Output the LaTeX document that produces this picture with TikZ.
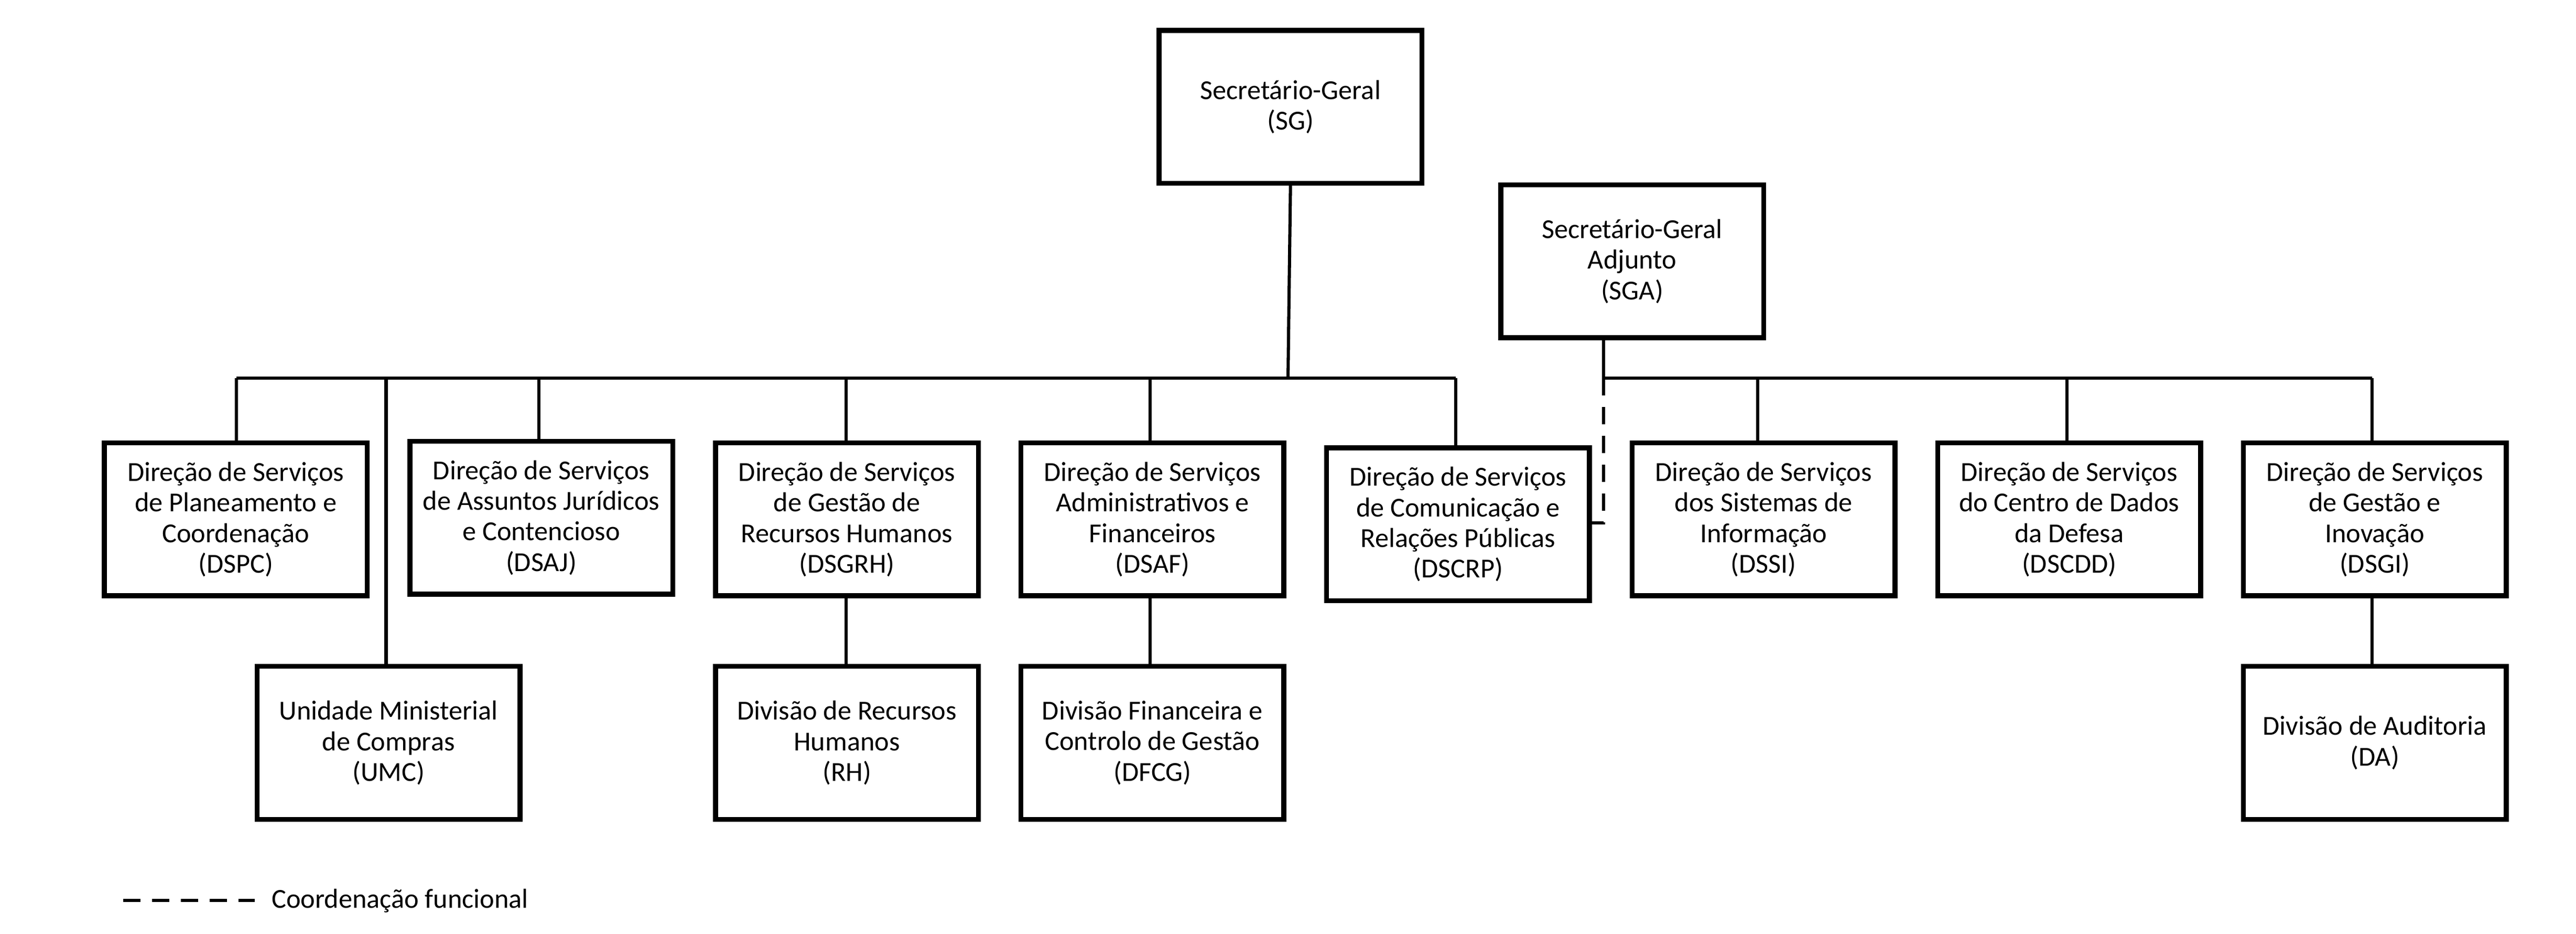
\documentclass[tikz,border=0pt]{standalone}
\usepackage{fontspec}
\setmainfont{Carlito}
\begin{document}
\begin{tikzpicture}[x=0.02cm,y=-0.02cm,
 box/.style={draw,line width=1.7pt,minimum width=160*0.02cm,minimum height=93*0.02cm,align=center,font=\fontsize{9.5}{10.6}\selectfont,inner sep=2pt,anchor=north west},
 ln/.style={line width=1.1pt},
 every node/.style={}]
\useasboundingbox (0,0) rectangle (1568,568);
\node[box] (sg) at (704,17) {Secretário-Geral\\(SG)};
\node[box] (sga) at (912,111) {Secretário-Geral\\Adjunto\\(SGA)};
\node[box] (dspc) at (62,268) {Direção de Serviços\\de Planeamento e\\Coordenação\\(DSPC)};
\node[box] (dsaj) at (248,267) {Direção de Serviços\\de Assuntos Jurídicos\\e Contencioso\\(DSAJ)};
\node[box] (dsgrh) at (434,268) {Direção de Serviços\\de Gestão de\\Recursos Humanos\\(DSGRH)};
\node[box] (dsaf) at (620,268) {Direção de Serviços\\Administrativos e\\Financeiros\\(DSAF)};
\node[box] (dscrp) at (806,271) {Direção de Serviços\\de Comunicação e\\Relações Públicas\\(DSCRP)};
\node[box] (dssi) at (992,268) {Direção de Serviços\\dos Sistemas de\\Informação\\(DSSI)};
\node[box] (dscdd) at (1178,268) {Direção de Serviços\\do Centro de Dados\\da Defesa\\(DSCDD)};
\node[box] (dsgi) at (1364,268) {Direção de Serviços\\de Gestão e\\Inovação\\(DSGI)};
\node[box] (umc) at (155,404) {Unidade Ministerial\\de Compras\\(UMC)};
\node[box] (rh) at (434,404) {Divisão de Recursos\\Humanos\\(RH)};
\node[box] (dfcg) at (620,404) {Divisão Financeira e\\Controlo de Gestão\\(DFCG)};
\node[box] (da) at (1364,404) {Divisão de Auditoria\\(DA)};
\coordinate (b1) at (784,230);
\coordinate (b2) at (976,230);
\coordinate (dc) at (976,318);
\draw[ln] (sg.south) -- (b1);
\draw[ln] (144,230) -- (886,230);
\draw[ln] (144,230) -- (dspc.north -| 144,0);
\draw[ln] (235,230) -- (umc.north -| 235,0);
\draw[ln] (328,230) -- (dsaj.north -| 328,0);
\draw[ln] (515,230) -- (dsgrh.north -| 515,0);
\draw[ln] (700,230) -- (dsaf.north -| 700,0);
\draw[ln] (886,230) -- (dscrp.north -| 886,0);
\draw[ln] (sga.south -| b2) -- (b2);
\draw[ln] (b2) -- (1444,230);
\draw[ln] (1070,230) -- (dssi.north -| 1070,0);
\draw[ln] (1258,230) -- (dscdd.north -| 1258,0);
\draw[ln] (1444,230) -- (dsgi.north -| 1444,0);
\draw[ln,dashed,dash pattern=on 6pt off 4pt] (b2) -- (dc) -- (dscrp.east |- dc);
\draw[ln] (dsgrh.south -| 515,0) -- (rh.north -| 515,0);
\draw[ln] (dsaf.south -| 700,0) -- (dfcg.north -| 700,0);
\draw[ln] (dsgi.south -| 1444,0) -- (da.north -| 1444,0);
\coordinate (l1) at (75,548); \coordinate (l2) at (155,548);
\draw[ln,dash pattern=on 6pt off 4pt] (l1) -- (l2);
\node[anchor=west,font=\fontsize{9.5}{11}\selectfont,inner sep=0] (leg) at (165,548) {Coordenação funcional};
\end{tikzpicture}
\end{document}
